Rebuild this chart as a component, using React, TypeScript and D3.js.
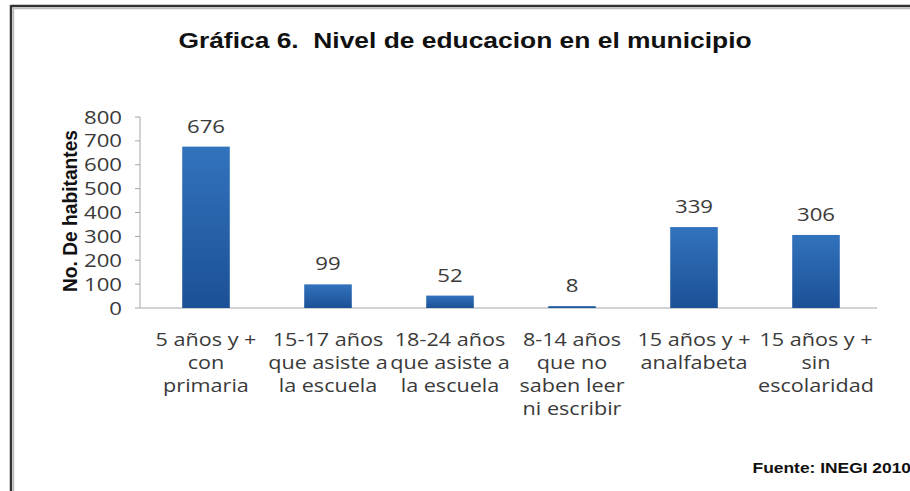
import React, { useEffect, useRef } from "react";
import * as d3 from "d3";

const categories = [
  ["5 años y +", "con", "primaria"],
  ["15-17 años", "que asiste a", "la escuela"],
  ["18-24 años", "que asiste a", "la escuela"],
  ["8-14 años", "que no", "saben leer", "ni escribir"],
  ["15 años y +", "analfabeta"],
  ["15 años y +", "sin", "escolaridad"],
];
const values = [676, 99, 52, 8, 339, 306];
const yTicks = [0, 100, 200, 300, 400, 500, 600, 700, 800];

const W = 910;
const H = 491;
const SX = 1.2; // the reference is stretched sideways

const App = () => {
  const svgRef = useRef(null);

  useEffect(() => {
    const svg = d3.select(svgRef.current);
    svg.selectAll("*").remove();

    const x = d3
      .scaleBand()
      .domain(categories.map((_, i) => String(i)))
      .range([145, 877])
      .paddingInner(0.61)
      .paddingOuter(0.305);
    const y = d3.scaleLinear().domain([0, 800]).range([308, 117]);
    const at = (px, py) => `translate(${px},${py}) scale(${SX},1)`;

    const defs = svg.append("defs");
    const grad = defs
      .append("linearGradient")
      .attr("id", "barGrad")
      .attr("x1", 0)
      .attr("y1", 0)
      .attr("x2", 0)
      .attr("y2", 1);
    grad.append("stop").attr("offset", "0%").attr("stop-color", "#3273bd");
    grad.append("stop").attr("offset", "100%").attr("stop-color", "#1b5096");

    // frame
    svg.append("rect").attr("width", W).attr("height", H).attr("fill", "#fff");
    svg
      .append("line")
      .attr("x1", 11)
      .attr("x2", W)
      .attr("y1", 6)
      .attr("y2", 6)
      .attr("stroke", "#333")
      .attr("stroke-width", 2.5);
    svg
      .append("line")
      .attr("x1", 11)
      .attr("x2", 11)
      .attr("y1", 5)
      .attr("y2", H)
      .attr("stroke", "#333")
      .attr("stroke-width", 2.5);
    svg
      .append("line")
      .attr("x1", 13)
      .attr("x2", W)
      .attr("y1", 8.5)
      .attr("y2", 8.5)
      .attr("stroke", "#bbb")
      .attr("stroke-width", 1.5);
    svg
      .append("line")
      .attr("x1", 13.5)
      .attr("x2", 13.5)
      .attr("y1", 8)
      .attr("y2", H)
      .attr("stroke", "#bbb")
      .attr("stroke-width", 1.5);

    // title
    svg
      .append("text")
      .attr("transform", at(465, 48))
      .attr("text-anchor", "middle")
      .attr("font-family", "Liberation Sans, Arial, sans-serif")
      .attr("font-weight", "bold")
      .attr("font-size", 22)
      .attr("fill", "#111")
      .attr("xml:space", "preserve")
      .text("Gráfica 6.  Nivel de educacion en el municipio");

    // y axis
    const axis = svg.append("g");
    axis
      .append("line")
      .attr("x1", 140)
      .attr("x2", 140)
      .attr("y1", y(800))
      .attr("y2", y(0))
      .attr("stroke", "#a6a6a6");
    axis
      .append("line")
      .attr("x1", 140)
      .attr("x2", 877)
      .attr("y1", y(0))
      .attr("y2", y(0))
      .attr("stroke", "#a6a6a6");
    axis
      .selectAll("line.tick")
      .data(yTicks)
      .join("line")
      .attr("class", "tick")
      .attr("x1", 135)
      .attr("x2", 140)
      .attr("y1", (d) => y(d))
      .attr("y2", (d) => y(d))
      .attr("stroke", "#a6a6a6");
    axis
      .selectAll("text")
      .data(yTicks)
      .join("text")
      .attr("transform", (d) => at(122, y(d) + 6.5))
      .attr("text-anchor", "end")
      .attr("font-family", "Open Sans, sans-serif")
      .attr("font-size", 18.5)
      .attr("fill", "#3a3a3a")
      .text((d) => d);

    svg
      .append("text")
      .attr("transform", "translate(77,211) rotate(-90)")
      .attr("text-anchor", "middle")
      .attr("font-family", "Liberation Sans, Arial, sans-serif")
      .attr("font-weight", "bold")
      .attr("font-size", 20)
      .attr("textLength", 162)
      .attr("lengthAdjust", "spacingAndGlyphs")
      .attr("fill", "#111")
      .text("No. De habitantes");

    // bars
    svg
      .selectAll("rect.bar")
      .data(values)
      .join("rect")
      .attr("class", "bar")
      .attr("x", (_, i) => x(String(i)))
      .attr("width", x.bandwidth())
      .attr("y", (d) => y(d))
      .attr("height", (d) => y(0) - y(d))
      .attr("fill", "url(#barGrad)");

    svg
      .selectAll("text.val")
      .data(values)
      .join("text")
      .attr("class", "val")
      .attr("transform", (d, i) => at(x(String(i)) + x.bandwidth() / 2, y(d) - 14))
      .attr("text-anchor", "middle")
      .attr("font-family", "Open Sans, sans-serif")
      .attr("font-size", 18.5)
      .attr("fill", "#3a3a3a")
      .text((d) => d);

    // category labels
    const cat = svg
      .selectAll("text.cat")
      .data(categories)
      .join("text")
      .attr("class", "cat")
      .attr("transform", (_, i) => at(x(String(i)) + x.bandwidth() / 2, 346))
      .attr("text-anchor", "middle")
      .attr("font-family", "Open Sans, sans-serif")
      .attr("font-size", 18)
      .attr("fill", "#3a3a3a");
    cat
      .selectAll("tspan")
      .data((d) => d)
      .join("tspan")
      .attr("x", 0)
      .attr("y", (_, j) => j * 23)
      .text((d) => d);

    // source
    svg
      .append("text")
      .attr("transform", at(911, 473))
      .attr("text-anchor", "end")
      .attr("font-family", "Liberation Sans, Arial, sans-serif")
      .attr("font-weight", "bold")
      .attr("font-size", 14.5)
      .attr("fill", "#111")
      .text("Fuente: INEGI 2010");
  }, []);

  return (
    <svg
      ref={svgRef}
      width={W}
      height={H}
      style={{ position: "absolute", left: 0, top: 0 }}
    ></svg>
  );
};

export default App;
